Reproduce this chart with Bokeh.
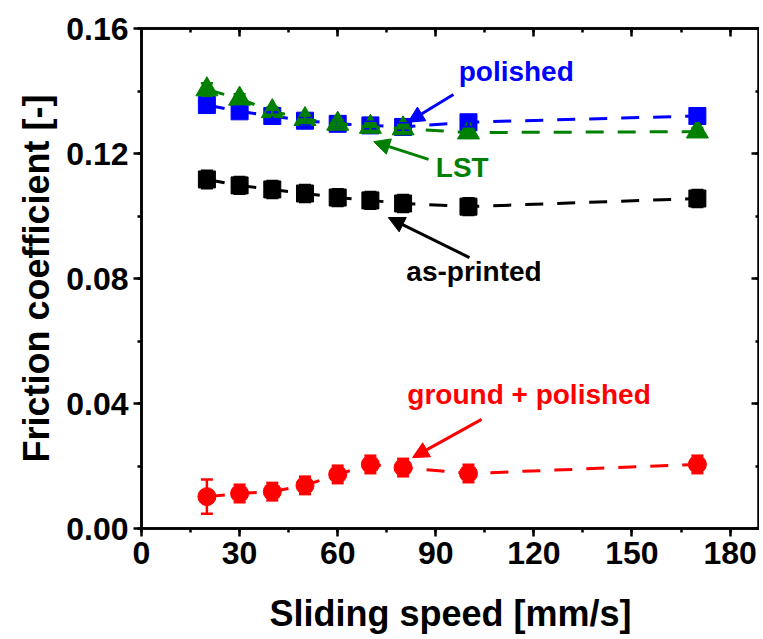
from bokeh.plotting import figure
from bokeh.models import (Range1d, LinearAxis, SingleIntervalTicker, NumeralTickFormatter,
                          ColumnDataSource, Whisker, TeeHead, Arrow, NormalHead, Label,
                          CustomJSTickFormatter)
from bokeh.embed import file_html
from bokeh.resources import INLINE

# ---- data ----
speed = [20, 30, 40, 50, 60, 70, 80, 100, 170]
polished = [0.1355, 0.1335, 0.1320, 0.1305, 0.1295, 0.1290, 0.1285, 0.1300, 0.1320]
polished_err = [0.0022, 0.0015, 0.0012, 0.0012, 0.0012, 0.0012, 0.0012, 0.0015, 0.0015]
lst = [0.1405, 0.1375, 0.1335, 0.1310, 0.1295, 0.1285, 0.1280, 0.1267, 0.1270]
lst_err = [0.0020, 0.0015, 0.0012, 0.0012, 0.0012, 0.0012, 0.0012, 0.0012, 0.0012]
as_printed = [0.1117, 0.1098, 0.1085, 0.1072, 0.1059, 0.1050, 0.1040, 0.1030, 0.1056]
as_printed_err = [0.0028, 0.0027, 0.0027, 0.0027, 0.0027, 0.0027, 0.0027, 0.0027, 0.0027]
ground_polished = [0.0102, 0.0112, 0.0118, 0.0138, 0.0173, 0.0205, 0.0195, 0.0176, 0.0205]
ground_polished_err = [0.0055, 0.0028, 0.0028, 0.0028, 0.0028, 0.0028, 0.0028, 0.0028, 0.0028]

series_names = ["polished", "LST", "as-printed", "ground + polished"]
x_ticks_interval = 30
y_ticks_interval = 0.04

FONT = "Liberation Sans"
BLUE = "#0000FF"
GREEN = "#008000"
BLACK = "#000000"
RED = "#FF0000"

p = figure(frame_width=618, frame_height=500,
           x_range=Range1d(0, 189), y_range=Range1d(0, 0.16),
           output_backend="svg", toolbar_location=None,
           min_border_left=141, min_border_top=28, min_border_right=0, min_border_bottom=0,
           background_fill_color="white", border_fill_color="white")
p.xgrid.visible = False
p.ygrid.visible = False
p.outline_line_color = "black"
p.outline_line_width = 2.5

xt = SingleIntervalTicker(interval=x_ticks_interval, num_minor_ticks=2)
yt = SingleIntervalTicker(interval=y_ticks_interval, num_minor_ticks=2)
p.xaxis.ticker = xt
p.yaxis.ticker = yt
p.yaxis.formatter = NumeralTickFormatter(format="0.00")

for ax in (p.xaxis[0], p.yaxis[0]):
    ax.axis_line_width = 2.5
    ax.major_tick_line_width = 2.5
    ax.minor_tick_line_width = 2.5
    ax.major_tick_out = 8
    ax.major_tick_in = 0
    ax.minor_tick_out = 4
    ax.minor_tick_in = 0
    ax.major_label_text_font = FONT
    ax.major_label_text_font_style = "bold"
    ax.major_label_text_font_size = "32px"
    ax.major_label_text_color = "black"
    ax.axis_label_text_font = FONT
    ax.axis_label_text_font_style = "bold"
    ax.axis_label_text_font_size = "36px"
    ax.axis_label_text_color = "black"
    ax.major_label_standoff = 5

p.xaxis.axis_label = "Sliding speed [mm/s]"
p.yaxis.axis_label = "Friction coefficient [-]"
p.xaxis.axis_label_standoff = 26
p.yaxis.axis_label_standoff = 6

for loc, tk in (("above", xt), ("right", yt)):
    ax = LinearAxis(ticker=tk, formatter=CustomJSTickFormatter(code="return ''"))
    ax.axis_line_width = 2.5
    ax.major_tick_line_width = 2.5
    ax.minor_tick_line_width = 2.5
    ax.major_tick_out = 0
    ax.major_tick_in = 8
    ax.minor_tick_out = 0
    ax.minor_tick_in = 4
    ax.major_label_text_font_size = "10px"
    ax.major_label_standoff = 0
    p.add_layout(ax, loc)

series = [
    (polished, polished_err, BLUE, "square", 17),
    (lst, lst_err, GREEN, "triangle", 22),
    (as_printed, as_printed_err, BLACK, "square", 17),
    (ground_polished, ground_polished_err, RED, "circle", 18),
]

for vals, errs, col, marker, size in series:
    src = ColumnDataSource(dict(x=speed, y=vals,
                                lo=[v - e for v, e in zip(vals, errs)],
                                hi=[v + e for v, e in zip(vals, errs)]))
    p.line("x", "y", source=src, line_color=col, line_width=3, line_dash="18 14")
    w = Whisker(source=src, base="x", lower="lo", upper="hi", line_color=col, line_width=2.5,
                upper_head=TeeHead(size=12, line_color=col, line_width=2.5),
                lower_head=TeeHead(size=12, line_color=col, line_width=2.5))
    w.level = "glyph"
    p.add_layout(w)
    p.scatter("x", "y", source=src, marker=marker, size=size, fill_color=col, line_color=col)

# annotations: (text, color, text x, text y, arrow tail x, tail y, head x, head y)
annots = [
    (series_names[0], BLUE, 97.0, 0.1462, 95.4, 0.1389, 81.5, 0.1300),
    (series_names[1], GREEN, 90.0, 0.1155, 87.8, 0.1181, 71.0, 0.1238),
    (series_names[2], BLACK, 81.0, 0.0822, 100.3, 0.0867, 75.5, 0.0995),
    (series_names[3], RED, 81.3, 0.0429, 104.0, 0.0349, 82.9, 0.0227),
]
for txt, col, tx, ty, x0, y0, x1, y1 in annots:
    p.add_layout(Label(x=tx, y=ty, text=txt, text_color=col, text_font=FONT,
                       text_font_style="bold", text_font_size="28px",
                       text_baseline="middle", text_align="left"))
    p.add_layout(Arrow(x_start=x0, y_start=y0, x_end=x1, y_end=y1,
                       line_color=col, line_width=3,
                       end=NormalHead(size=16, fill_color=col, line_color=col)))

open("out.html", "w").write(file_html(p, INLINE))
